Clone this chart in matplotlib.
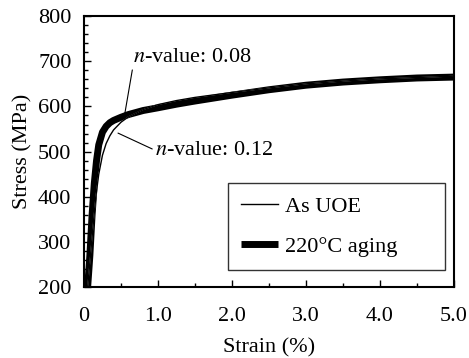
import matplotlib.pyplot as plt
from matplotlib.ticker import MultipleLocator

plt.rcParams['font.family'] = 'Liberation Serif'
plt.rcParams['mathtext.fontset'] = 'stix'

# --- As UOE (thin) ---
strain_uoe = [0.05, 0.08, 0.12, 0.16, 0.20, 0.25, 0.30, 0.35, 0.40, 0.50, 0.60, 0.80,
              1.00, 1.25, 1.50, 2.00, 2.50, 3.00, 3.50, 4.00, 4.50, 5.00]
stress_uoe = [200, 255, 330, 400, 450, 492, 518, 535, 548, 565, 577, 593,
              604, 613, 620, 631, 641, 650, 656, 661, 664, 667]

# --- 220C aging (thick) ---
strain_aged = [0.05, 0.08, 0.11, 0.14, 0.17, 0.20, 0.25, 0.30, 0.35, 0.40, 0.50, 0.60,
               0.80, 1.00, 1.25, 1.50, 2.00, 2.50, 3.00, 3.50, 4.00, 4.50, 5.00]
stress_aged = [200, 270, 360, 430, 480, 515, 543, 556, 564, 569, 576, 582,
               591, 597, 605, 612, 625, 637, 647, 654, 659, 663, 665]

FS = 16

fig, ax = plt.subplots(figsize=(4.69, 3.58), dpi=100)
fig.subplots_adjust(left=0.179, right=0.968, top=0.955, bottom=0.198)

ax.plot(strain_aged, stress_aged, color='black', linewidth=5, label='220°C aging',
        solid_capstyle='butt')
ax.plot(strain_uoe, stress_uoe, color='white', linewidth=0.6)
ax.plot(strain_uoe, stress_uoe, color='black', linewidth=1.0, label='As UOE')

ax.set_xlim(0, 5.0)
ax.set_ylim(200, 800)
ax.xaxis.set_minor_locator(MultipleLocator(0.5))
ax.yaxis.set_major_locator(MultipleLocator(100))
ax.yaxis.set_minor_locator(MultipleLocator(20))
ax.set_xticks([0, 1, 2, 3, 4, 5])
ax.set_xticklabels(['0', '1.0', '2.0', '3.0', '4.0', '5.0'])
ax.tick_params(which='both', direction='in', labelsize=FS, width=1.0)
ax.tick_params(which='major', length=5)
ax.tick_params(which='minor', length=3)
ax.tick_params(axis='x', which='major', pad=14)
ax.tick_params(axis='y', which='major', pad=9)
for s in ax.spines.values():
    s.set_linewidth(1.5)

ax.set_xlabel('Strain (%)', fontsize=FS, labelpad=9)
ax.set_ylabel('Stress (MPa)', fontsize=FS, labelpad=4)

ax.annotate('$n$-value: 0.08', xy=(0.55, 582), xytext=(0.66, 708),
            fontsize=FS, va='center', ha='left',
            arrowprops=dict(arrowstyle='-', color='black', lw=0.8,
                            shrinkA=0, shrinkB=0, relpos=(0.0, 0.0)))
ax.annotate('$n$-value: 0.12', xy=(0.46, 541), xytext=(0.96, 503),
            fontsize=FS, va='center', ha='left',
            arrowprops=dict(arrowstyle='-', color='black', lw=0.8,
                            shrinkA=0, shrinkB=0, relpos=(0.0, 0.5)))

handles, labels = ax.get_legend_handles_labels()
leg = ax.legend(handles[::-1], labels[::-1],
                loc='lower left', bbox_to_anchor=(0.389, 0.063, 0.586, 0.3),
                mode='expand',
                fontsize=FS, frameon=True, fancybox=False, edgecolor='black',
                handlelength=1.65, labelspacing=0.85, borderpad=0.6,
                borderaxespad=0, handletextpad=0.3)
leg.get_frame().set_linewidth(1.0)

fig.savefig('out.png', dpi=100)
